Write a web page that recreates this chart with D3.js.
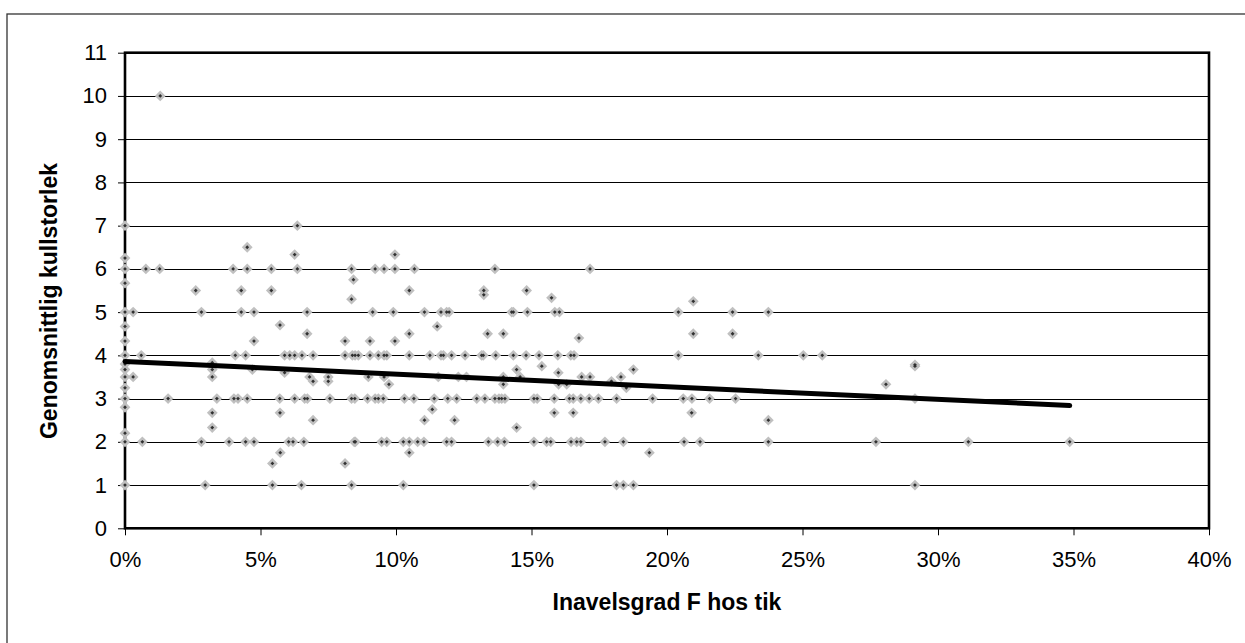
<!DOCTYPE html>
<html>
<head>
<meta charset="utf-8">
<script src="https://cdn.jsdelivr.net/npm/d3@7"></script>
<style>
  html, body { margin: 0; padding: 0; background: #fff; overflow: hidden; }
  svg { display: block; font-family: "Liberation Sans", Arial, sans-serif; }
</style>
</head>
<body>
<svg id="chart" width="1245" height="643"></svg>
<script>
// ---- data (inbreeding F in %, mean litter size) ----
const inbreedingPct = [
  0,0,0,0,0,0,0,0,0,0,0,0,0,0,0,0,0,
  0.3,0.3,0.6,0.64,0.77,1.28,1.3,1.59,
  2.61,2.82,2.82,2.96,
  3.22,3.22,3.22,3.22,3.22,3.39,
  3.84,3.99,4.02,4.07,4.17,4.29,4.29,
  4.45,4.45,4.51,4.51,4.51,
  4.70,4.76,4.76,4.76,
  5.40,5.40,5.44,5.44,
  5.71,5.72,5.72,5.73,
  5.89,5.89,6.04,6.08,6.2,
  6.26,6.26,6.26,6.36,6.36,
  6.51,6.53,6.6,6.63,6.72,6.72,6.73,
  6.81,6.94,6.94,6.94,
  7.5,7.5,7.56,
  8.12,8.12,8.12,
  8.36,8.36,8.43,8.36,8.36,
  8.39,8.49,8.61,8.46,8.5,8.48,
  8.98,8.95,9.04,9.04,
  9.14,9.23,9.23,9.35,9.35,9.47,
  9.53,9.56,9.56,9.56,9.66,9.66,9.74,
  9.90,9.96,9.96,9.96,
  10.27,10.27,10.31,
  10.49,10.49,10.49,10.49,10.49,
  10.66,10.68,10.8,
  11.03,11.05,11.05,11.25,11.34,11.41,
  11.52,11.56,11.66,11.66,11.75,11.87,11.96,
  11.87,11.91,12.05,12.05,12.16,12.24,12.3,
  12.55,12.6,12.98,
  13.16,13.22,13.24,13.24,13.28,13.38,13.41,
  13.65,13.65,13.68,13.75,13.80,13.9,
  13.96,13.96,13.96,14.0,14.02,
  14.27,14.33,14.33,14.45,14.45,14.58,
  14.80,14.82,14.85,
  15.09,15.09,15.09,15.21,15.28,15.38,
  15.56,15.71,15.74,15.84,15.84,15.86,
  15.97,15.99,16.0,
  16.03,16.3,16.4,16.45,16.46,16.54,16.54,16.57,
  16.67,16.75,16.82,16.82,16.85,
  17.13,17.16,17.16,17.47,17.71,
  17.95,18.14,18.14,18.3,18.39,18.39,18.5,
  18.76,18.76,19.35,19.47,
  20.42,20.42,20.6,20.63,20.92,20.91,20.97,20.97,
  21.22,21.57,
  22.42,22.42,22.53,
  23.37,23.74,23.74,23.74,
  25.03,25.73,
  27.71,28.08,29.15,29.15,29.15,29.15,
  31.12,34.86
];
const litterSize = [
  7,6.25,6,5.67,5,4.67,4.33,4,3.8,3.67,3.5,3.25,3,2.8,2.2,2,1,
  5,3.5,4,2,6,6,10,3,
  5.5,5,2,1,
  3.83,3.67,3.5,2.67,2.33,3,
  2,6,3,4,3,5.5,5,
  4,2,6.5,6,3,
  3.67,5,4.33,2,
  6,5.5,1.5,1,
  3,4.7,2.67,1.75,
  4,3.6,2,4,2,
  6.33,4,3,7,6,
  1,4,2,3,5,4.5,3,
  3.5,4,3.4,2.5,
  3.5,3.4,3,
  4.33,4,1.5,
  6,5.3,5.75,3,1,
  4,4,4,2,2,3,
  3.5,3,4.33,4,
  5,6,3,4,3,2,
  3,6,4,3.5,4,2,3.33,
  5,6.33,6,4.33,
  2,1,3,
  5.5,4.5,4,2,1.75,
  3,6,2,
  2,5,2.5,4,2.75,3,
  4.67,3.5,5,4,4,5,5,
  2,3,4,2,2.5,3,3.5,
  4,3.5,3,
  4,4,5.5,5.4,3,4.5,2,
  6,3,4,2,3,3,
  4.5,3.5,3.33,2,3,
  5,5,4,3.67,2.33,3.5,
  4,5.5,5,
  3,2,1,3,4,3.75,
  2,2,5.33,3,2.67,5,
  4,3.6,3.33,
  5,3.33,3,4,2,3,2.67,4,
  2,4.4,3,2,3.5,
  3,6,3.5,3,2,
  3.4,3,1,3.5,2,1,3.25,
  3.67,1,1.75,3,
  5,4,3,2,3,2.67,5.25,4.5,
  2,3,
  5,4.5,3,
  4,5,2.5,2,
  4,4,
  2,3.33,3.78,3.75,3,1,
  2,2
];
// linear trend line end points (F fraction, litter size)
const trendF = [0, 0.3486];
const trendLitter = [3.86, 2.84];

const yTicks = [0,1,2,3,4,5,6,7,8,9,10,11];
const xTicks = [0,0.05,0.10,0.15,0.20,0.25,0.30,0.35,0.40];
const xTitle = "Inavelsgrad F hos tik";
const yTitle = "Genomsnittlig kullstorlek";

// ---- layout ----
const svg = d3.select("#chart");
const L = 125, R = 1209, T = 52.7, B = 528.3;

const x = d3.scaleLinear().domain([0, 0.4]).range([L, R]);
const y = d3.scaleLinear().domain([0, 11]).range([B, T]);

// outer frame (extends beyond the window on the right/bottom)
svg.append("rect")
  .attr("x", 7).attr("y", 14).attr("width", 1400).attr("height", 800)
  .attr("fill", "none").attr("stroke", "#333").attr("stroke-width", 1.3);

// gridlines
svg.append("g")
  .selectAll("line")
  .data(yTicks.filter(d => d > 0 && d < 11))
  .join("line")
  .attr("x1", L).attr("x2", R)
  .attr("y1", d => Math.round(y(d)) + 0.5).attr("y2", d => Math.round(y(d)) + 0.5)
  .attr("stroke", "#000").attr("stroke-width", 1);

// y axis
const yAxis = svg.append("g")
  .attr("transform", `translate(${L},0)`)
  .call(d3.axisLeft(y).tickValues(yTicks).tickSize(7).tickPadding(11).tickFormat(d3.format("d")));
yAxis.select(".domain").remove();
yAxis.selectAll(".tick line").attr("stroke", "#000").attr("stroke-width", 1);
yAxis.selectAll(".tick text")
  .attr("font-family", "Liberation Sans, Arial, sans-serif")
  .attr("font-size", 22).attr("fill", "#000");

// x axis
const xAxis = svg.append("g")
  .attr("transform", `translate(0,${B})`)
  .call(d3.axisBottom(x).tickValues(xTicks).tickSize(7).tickPadding(16).tickFormat(d3.format(".0%")));
xAxis.select(".domain").remove();
xAxis.selectAll(".tick line").attr("stroke", "#000").attr("stroke-width", 1);
xAxis.selectAll(".tick text")
  .attr("font-family", "Liberation Sans, Arial, sans-serif")
  .attr("font-size", 22).attr("fill", "#000");

// plot frame
svg.append("rect")
  .attr("x", L).attr("y", T).attr("width", R - L).attr("height", B - T)
  .attr("fill", "none").attr("stroke", "#000").attr("stroke-width", 2.6);

// points
const pts = inbreedingPct.map((f, i) => ({ f: f / 100, v: litterSize[i] }));
const diamond = (s) => `M0,${-s}L${s},0L0,${s}L${-s},0Z`;
const gPts = svg.append("g");
gPts.selectAll("path.m")
  .data(pts)
  .join("path")
  .attr("class", "m")
  .attr("transform", d => `translate(${x(d.f)},${y(d.v)})`)
  .attr("d", diamond(5.4))
  .attr("fill", "#c0c0c0");
gPts.selectAll("path.c")
  .data(pts)
  .join("path")
  .attr("class", "c")
  .attr("transform", d => `translate(${x(d.f)},${y(d.v)})`)
  .attr("d", diamond(1.9))
  .attr("fill", "#303030");

// trend line
svg.append("path")
  .datum(trendF.map((f, i) => [f, trendLitter[i]]))
  .attr("d", d3.line().x(d => x(d[0])).y(d => y(d[1])))
  .attr("fill", "none").attr("stroke", "#000")
  .attr("stroke-width", 5).attr("stroke-linecap", "round");

// titles
svg.append("text")
  .attr("x", 667).attr("y", 610)
  .attr("text-anchor", "middle")
  .attr("font-size", 23).attr("font-weight", "bold")
  .text(xTitle);
svg.append("text")
  .attr("transform", `translate(57,301) rotate(-90)`)
  .attr("text-anchor", "middle")
  .attr("font-size", 23).attr("font-weight", "bold")
  .text(yTitle);
</script>
</body>
</html>
